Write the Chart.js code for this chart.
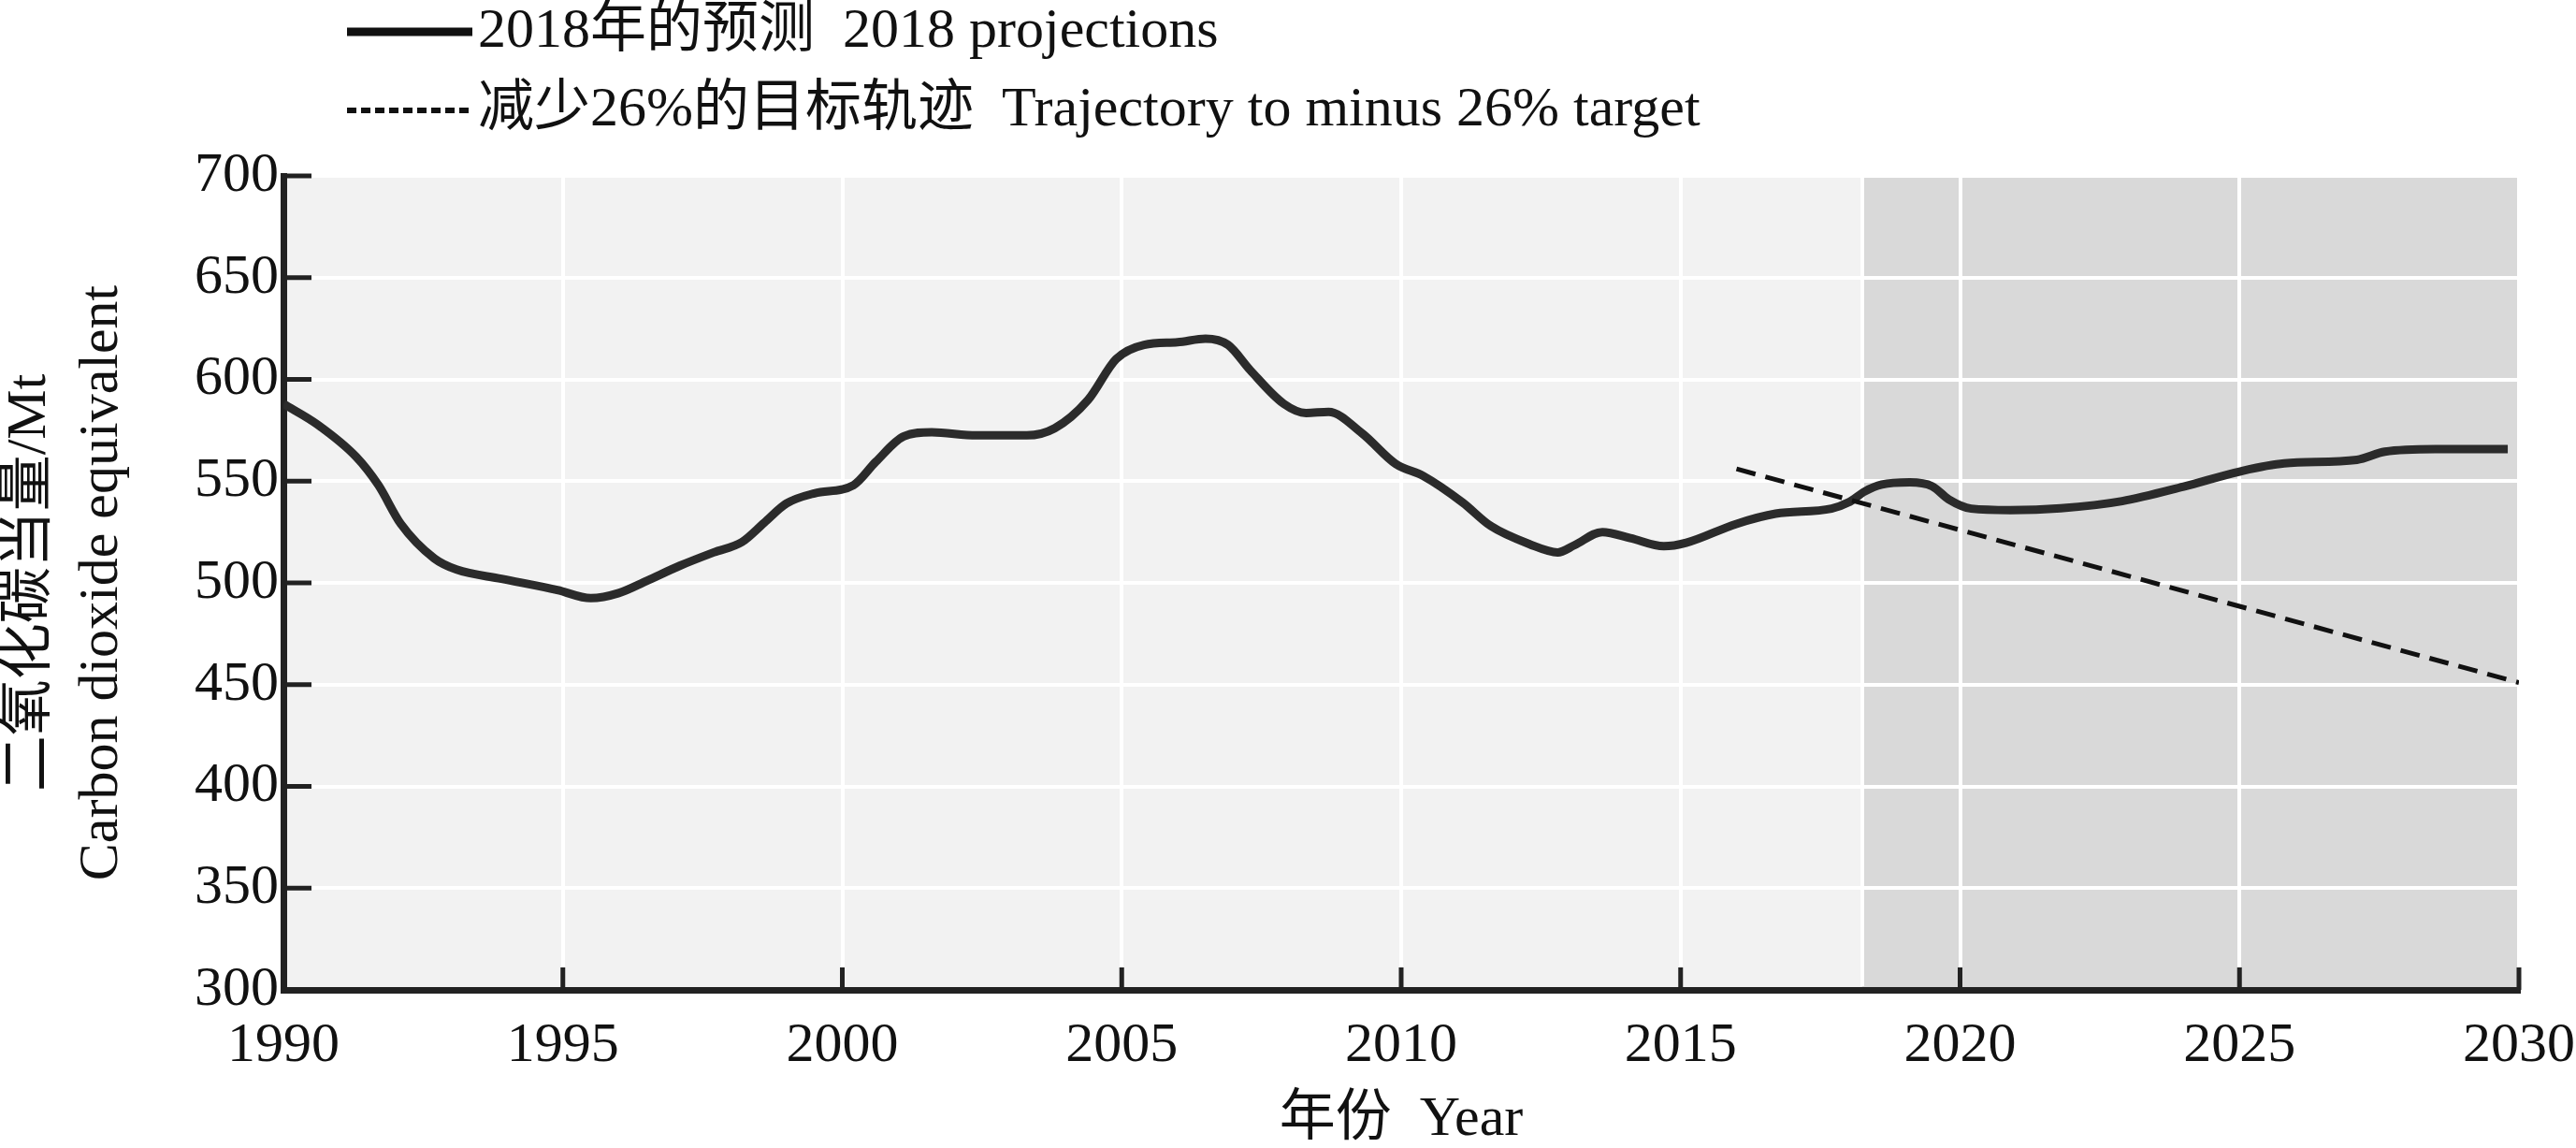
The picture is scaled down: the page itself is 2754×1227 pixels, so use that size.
<!DOCTYPE html>
<html lang="zh">
<head>
  <meta charset="UTF-8" />
  <title>2018年的预测 2018 projections</title>
  <script src="https://cdn.jsdelivr.net/npm/chart.js"></script>
  <style>
    html, body { margin: 0; padding: 0; background: #fff; }
    canvas { display: block; }
  </style>
</head>
<body>
  <canvas id="emissions" width="2754" height="1227"></canvas>

  <script>
    // 2018 projections, Mt CO2-e
    const projYears = [1990, 1990.6, 1991.3, 1991.7, 1992.1, 1992.7, 1993.1, 1993.9, 1994.9, 1995.5,
      1996.0, 1996.5, 1997.1, 1997.7, 1998.2, 1998.6, 1999.0, 1999.5, 2000.2, 2000.6,
      2001.1, 2001.6, 2002.4, 2003.3, 2003.8, 2004.4, 2004.9, 2005.4, 2006.0, 2006.5,
      2006.9, 2007.3, 2007.9, 2008.3, 2008.7, 2009.3, 2009.9, 2010.4, 2011.1, 2011.6,
      2012.3, 2012.8, 2013.1, 2013.6, 2014.1, 2014.7, 2015.1, 2016.0, 2016.7, 2017.7,
      2018.0, 2018.3, 2018.6, 2019.1, 2019.5, 2019.8, 2020.2, 2020.9, 2021.8, 2022.9,
      2024.0, 2025.0, 2025.8, 2027.1, 2027.6, 2028.5, 2029.8];
    const projValues = [588, 578, 562, 548, 529, 512, 506.5, 502, 496.5, 492.5,
      495, 501, 508.5, 515, 520, 529.5, 539, 544, 548, 559.5,
      572, 574, 572.5, 572.5, 576, 590, 610, 617, 618.3, 620,
      617, 604.5, 588, 583.5, 584, 573.5, 558.5, 552.5, 539.5, 528,
      519, 515, 518.5, 525, 522, 518, 519.7, 529, 534, 536.5,
      539.5, 545, 548.3, 549.4, 547.5, 541, 536.5, 535.8, 536.7, 540.2,
      547.3, 554.7, 558.7, 560.5, 564.5, 565.8, 565.8];

    // straight trajectory to the minus 26% target
    const targetYears = [2016, 2030];
    const targetValues = [556, 451];

    // projection period (darker background) starts here
    const shadeFrom = 2018.25;

    const xTicks = [1990, 1995, 2000, 2005, 2010, 2015, 2020, 2025, 2030];
    const yTicks = [300, 350, 400, 450, 500, 550, 600, 650, 700];

    const seriesLabels = ['2018年的预测  2018 projections', '减少26%的目标轨迹  Trajectory to minus 26% target'];
    const xTitle = '年份  Year';
    const yTitle = ['二氧化碳当量/Mt', 'Carbon dioxide equivalent'];

    const family = '"Liberation Serif", "Noto Sans CJK SC", serif';
    const ink = '#111';

    // light / dark plot background with a white seam
    const backdrop = {
      id: 'backdrop',
      beforeDraw(chart) {
        const { ctx, chartArea: a, scales: { x } } = chart;
        const split = x.getPixelForValue(shadeFrom);
        ctx.save();
        ctx.fillStyle = '#f2f2f2';
        ctx.fillRect(a.left, a.top, split - a.left, a.bottom - a.top);
        ctx.fillStyle = '#d9d9d9';
        ctx.fillRect(split, a.top, a.right - split, a.bottom - a.top);
        ctx.restore();
      },
      beforeDatasetsDraw(chart) {
        const { ctx, chartArea: a, scales: { x } } = chart;
        const split = x.getPixelForValue(shadeFrom);
        ctx.save();
        ctx.strokeStyle = '#fff';
        ctx.lineWidth = 4;
        ctx.beginPath();
        ctx.moveTo(split, a.top);
        ctx.lineTo(split, a.bottom - 4);
        ctx.stroke();
        ctx.restore();
      }
    };

    // tick marks point into the plot
    const innerTicks = {
      id: 'innerTicks',
      afterDatasetsDraw(chart) {
        const { ctx, chartArea: a, scales: { x, y } } = chart;
        ctx.save();
        ctx.strokeStyle = '#222';
        ctx.lineWidth = 5;
        ctx.beginPath();
        y.ticks.forEach(t => {
          const py = y.getPixelForValue(t.value);
          ctx.moveTo(a.left, py);
          ctx.lineTo(a.left + 30, py);
        });
        x.ticks.forEach(t => {
          const px = x.getPixelForValue(t.value);
          ctx.moveTo(px, a.bottom);
          ctx.lineTo(px, a.bottom - 24);
        });
        ctx.stroke();
        ctx.restore();
      }
    };

    // two-row key above the plot
    const seriesKey = {
      id: 'seriesKey',
      afterDraw(chart) {
        const { ctx } = chart;
        const keyStyle = [{ width: 9, dash: [] }, { width: 6, dash: [10, 5] }];
        ctx.save();
        ctx.font = '60px ' + family;
        ctx.textBaseline = 'middle';
        ctx.fillStyle = ink;
        ctx.strokeStyle = ink;
        chart.data.datasets.forEach((ds, i) => {
          const yy = 34 + i * 84;
          ctx.lineWidth = keyStyle[i].width;
          ctx.setLineDash(keyStyle[i].dash);
          ctx.beginPath();
          ctx.moveTo(371, yy);
          ctx.lineTo(505, yy);
          ctx.stroke();
          ctx.fillText(ds.label, 511, yy);
        });
        ctx.restore();
      }
    };

    new Chart(document.getElementById('emissions'), {
      type: 'line',
      data: {
        datasets: [
          {
            label: seriesLabels[0],
            data: projYears.map((yr, i) => ({ x: yr, y: projValues[i] })),
            borderColor: '#2b2b2b',
            borderWidth: 9,
            pointRadius: 0,
            cubicInterpolationMode: 'monotone',
            fill: false,
            order: 1
          },
          {
            label: seriesLabels[1],
            data: targetYears.map((yr, i) => ({ x: yr, y: targetValues[i] })),
            borderColor: ink,
            borderWidth: 5,
            borderDash: [21, 11],
            pointRadius: 0,
            fill: false,
            order: 0
          }
        ]
      },
      options: {
        responsive: false,
        animation: false,
        devicePixelRatio: 1,
        layout: { padding: { top: 188, right: 61, bottom: 0, left: 0 } },
        plugins: {
          legend: { display: false },
          tooltip: { enabled: false }
        },
        scales: {
          x: {
            type: 'linear',
            min: 1990,
            max: 2030,
            afterBuildTicks: s => { s.ticks = xTicks.map(v => ({ value: v })); },
            afterFit: s => {
              s.height = 169;
              s.paddingLeft = 0;
              s.paddingRight = 0;
            },
            grid: { color: '#fff', lineWidth: 4, drawTicks: false },
            border: { color: '#222', width: 7 },
            ticks: {
              padding: 24,
              color: ink,
              maxRotation: 0,
              autoSkip: false,
              callback: v => String(v),
              font: { family, size: 60, lineHeight: 1.2 }
            },
            title: {
              display: true,
              text: xTitle,
              color: ink,
              padding: 0,
              font: { family, size: 60, lineHeight: 1 }
            }
          },
          y: {
            min: 300,
            max: 700,
            afterBuildTicks: s => { s.ticks = yTicks.map(v => ({ value: v })); },
            afterFit: s => {
              s.width = 303;
              s.paddingTop = 0;
              s.paddingBottom = 0;
            },
            grid: { color: '#fff', lineWidth: 4, drawTicks: false },
            border: { color: '#222', width: 7 },
            ticks: {
              padding: 5,
              color: ink,
              callback: v => String(v),
              font: { family, size: 60, lineHeight: 1.2 }
            },
            title: {
              display: true,
              text: yTitle,
              color: ink,
              padding: { top: -6, bottom: 0 },
              font: { family, size: 60, lineHeight: 1.28 }
            }
          }
        }
      },
      plugins: [backdrop, innerTicks, seriesKey]
    });
  </script>
</body>
</html>
